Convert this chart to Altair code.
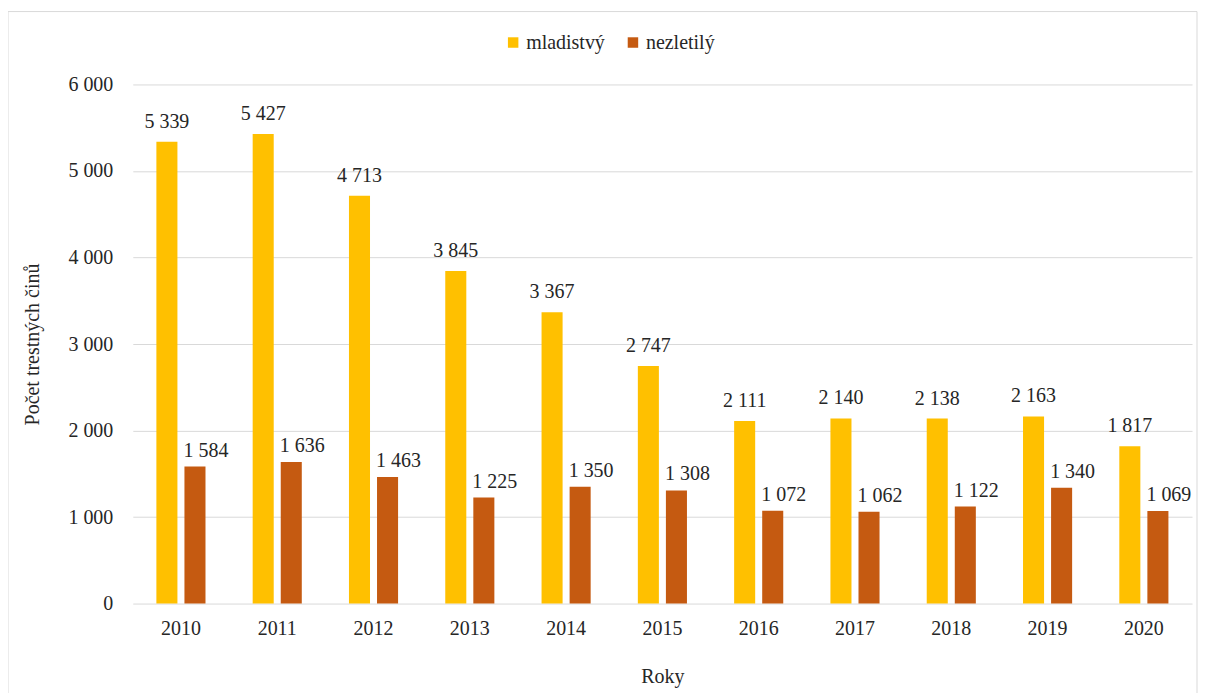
import altair as alt
import pandas as pd

years = ["2010", "2011", "2012", "2013", "2014", "2015", "2016", "2017", "2018", "2019", "2020"]
mladistvy = [5339, 5427, 4713, 3845, 3367, 2747, 2111, 2140, 2138, 2163, 1817]
nezletily = [1584, 1636, 1463, 1225, 1350, 1308, 1072, 1062, 1122, 1340, 1069]
series = ["mladistvý", "nezletilý"]
colors = ["#FFC000", "#C55A11"]

rows = []
for i, y in enumerate(years):
    rows.append({"rok": y, "skupina": series[0], "hodnota": mladistvy[i]})
    rows.append({"rok": y, "skupina": series[1], "hodnota": nezletily[i]})
df = pd.DataFrame(rows)
df["popis"] = df["hodnota"].map(lambda v: f"{v:,}".replace(",", " "))

FONT = "Liberation Serif, Times New Roman, serif"
TXT = "#262626"
W, H = 1061, 520

base = alt.Chart(df)

x = alt.X("rok:N", sort=years,
          scale=alt.Scale(paddingInner=0.49, paddingOuter=0.245),
          axis=alt.Axis(title="Roky", labelAngle=0, labelPadding=15, ticks=False, domain=False,
                        titleY=79, titleBaseline="alphabetic", titleFontWeight="normal"))
xo = alt.XOffset("skupina:N", sort=series, scale=alt.Scale(paddingInner=0.25, paddingOuter=0))
y = alt.Y("hodnota:Q",
          scale=alt.Scale(domain=[0, 6000], nice=False),
          axis=alt.Axis(title="Počet trestných činů", values=[0, 1000, 2000, 3000, 4000, 5000, 6000],
                        labelExpr="replace(format(datum.value, ','), ',', ' ')",
                        ticks=False, domain=False, labelPadding=20, gridColor="#d9d9d9",
                        titleX=-90, titleY=H / 2, titleFontWeight="normal"))
color = alt.Color("skupina:N", sort=series, scale=alt.Scale(domain=series, range=colors),
                  legend=alt.Legend(title=None, orient="none", direction="horizontal",
                                    legendX=371, legendY=-52, symbolType="square", symbolSize=110,
                                    symbolStrokeWidth=0, labelFontSize=20, labelFont=FONT,
                                    labelColor=TXT, columnPadding=18, symbolOffset=0, labelOffset=3))

bars = base.mark_bar().encode(x=x, xOffset=xo, y=y, color=color)

lab1 = base.transform_filter(alt.datum.skupina == series[0]).mark_text(
    baseline="alphabetic", dy=-14, fontSize=20, font=FONT, color=TXT
).encode(x=x, xOffset=xo, y=y, text="popis:N")
lab2 = base.transform_filter(alt.datum.skupina == series[1]).mark_text(
    baseline="alphabetic", dy=-10, dx=11, fontSize=20, font=FONT, color=TXT
).encode(x=x, xOffset=xo, y=y, text="popis:N")

border = alt.Chart(pd.DataFrame({"a": [0]})).mark_rect(
    fill=None, stroke="#d9d9d9", strokeWidth=1, clip=False
).encode(x=alt.value(-125), x2=alt.value(W + 5), y=alt.value(-73), y2=alt.value(H + 95))

chart = alt.layer(border, bars, lab1, lab2).properties(
    width=W, height=H,
    padding={"left": 125, "top": 76, "right": 6, "bottom": 92},
    autosize=alt.AutoSizeParams(type="none"),
).configure_view(stroke=None).configure_axis(
    labelFont=FONT, titleFont=FONT, labelFontSize=20, titleFontSize=20,
    labelColor=TXT, titleColor=TXT
).configure_axisX(grid=False)

chart.save("out.html", embed_options={"renderer": "svg", "actions": False})
